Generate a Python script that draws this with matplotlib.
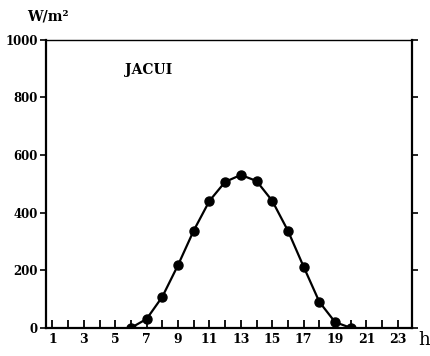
import matplotlib
matplotlib.use("Agg")
import matplotlib.pyplot as plt

hours = [6, 7, 8, 9, 10, 11, 12, 13, 14, 15, 16, 17, 18, 19, 20]
irradiance = [0, 31, 108, 218, 338, 441, 507, 531, 510, 441, 337, 212, 90, 20, 0]
xtick_labels = [1, 3, 5, 7, 9, 11, 13, 15, 17, 19, 21, 23]
ytick_vals = [0, 200, 400, 600, 800, 1000]

plt.rcParams['font.family'] = ['DejaVu Serif']
plt.rcParams['font.weight'] = 'bold'

fig = plt.figure(figsize=(4.31, 3.56), dpi=100)
ax = fig.add_axes([0.107, 0.079, 0.849, 0.809])

ax.plot(hours, irradiance, color='black', lw=1.6, marker='o', ms=6.5,
        markerfacecolor='black', markeredgecolor='black')

ax.set_xlim(0.6, 23.9)
ax.set_ylim(0, 1000)

ax.set_xticks(range(1, 24), minor=True)
ax.set_xticks(xtick_labels)
ax.set_xticklabels([str(v) for v in xtick_labels], fontsize=9, fontweight='bold')
ax.tick_params(axis='x', which='both', direction='in', length=6, width=1.3, pad=4)

ax.set_yticks(ytick_vals)
ax.set_yticklabels([str(v) for v in ytick_vals], fontsize=8.5, fontweight='bold')
ax.tick_params(axis='y', which='major', direction='out', length=4, width=1.2,
               right=True, pad=2)

for side in ['left', 'right', 'bottom']:
    ax.spines[side].set_linewidth(1.6)
ax.spines['top'].set_linewidth(1.0)

ax.text(5.6, 895, 'JACUI', fontsize=10, fontweight='bold', ha='left', va='center')
fig.text(0.11, 0.955, 'W/m²', fontsize=10, fontweight='bold', ha='center', va='center')
fig.text(0.985, 0.045, 'h', fontsize=13, fontweight='normal', ha='center', va='center')

fig.savefig('out.png', dpi=100)
